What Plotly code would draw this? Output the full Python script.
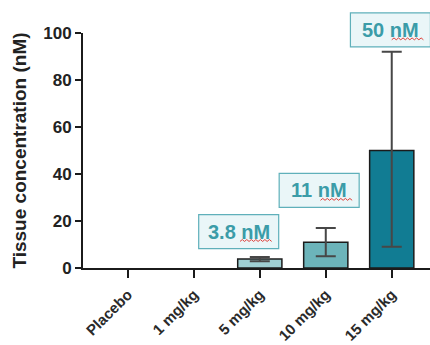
import plotly.graph_objects as go
import numpy as np

# Tissue concentration by dose group
groups = ["Placebo", "1 mg/kg", "5 mg/kg", "10 mg/kg", "15 mg/kg"]
mean_nM = [0, 0, 3.8, 11, 50]
err_plus = [None, None, 0.9, 6, 42]
err_minus = [None, None, 0.9, 6, 41]
bar_colors = ["#9fcfd3", "#9fcfd3", "#9fcfd3", "#6cb4ba", "#117c93"]
outline_w = [0, 0, 1.5, 1.5, 1.5]
value_labels = ["", "", "3.8 nM", "11 nM", "50 nM"]
label_x = [None, None, 1.68, 2.90, 3.98]
label_y = [None, None, 15.5, 33, 101.3]

FONT = "Liberation Sans, Arial, sans-serif"
TEAL_TEXT = "#3b9ca8"
Y_MAX = 100
pos = list(range(len(groups)))

fig = go.Figure()
fig.add_trace(go.Bar(
    x=pos, y=mean_nM, width=0.67,
    marker=dict(color=bar_colors, line=dict(color="#1b1b1b", width=outline_w)),
    cliponaxis=False,
))

# error bars only for groups that have a spread
has_err = [i for i in pos if err_plus[i] is not None]
fig.add_trace(go.Scatter(
    x=[pos[i] for i in has_err], y=[mean_nM[i] for i in has_err],
    mode="markers", marker=dict(size=0.1, color="rgba(0,0,0,0)"),
    error_y=dict(type="data", symmetric=False,
                 array=[err_plus[i] for i in has_err],
                 arrayminus=[err_minus[i] for i in has_err],
                 color="#474747", thickness=2, width=10),
    hoverinfo="skip",
))

for i, txt in enumerate(value_labels):
    if not txt:
        continue
    # label box
    fig.add_shape(
        type="rect", layer="below",
        xref="x", xsizemode="pixel", xanchor=label_x[i], x0=-40, x1=40,
        yref="paper", ysizemode="pixel", yanchor=label_y[i] / Y_MAX, y0=-17, y1=17,
        fillcolor="#eaf6f8", line=dict(color="#5fb0ba", width=1.2),
    )
    fig.add_annotation(
        x=label_x[i], y=label_y[i] / Y_MAX, xref="x", yref="paper",
        xanchor="center", yanchor="middle",
        text="<b>" + txt + "</b>",
        showarrow=False, font=dict(family=FONT, size=20, color=TEAL_TEXT),
    )
    # red wavy spell-check underline under the "nM" unit
    xs = np.linspace(label_x[i] + 0.02, label_x[i] + 0.5, 15)
    ys = label_y[i] - 3.8 + np.array([0.4 if k % 2 else -0.4 for k in range(15)])
    fig.add_trace(go.Scatter(x=xs, y=ys, mode="lines",
                             line=dict(color="#e0403a", width=1), hoverinfo="skip"))

fig.update_layout(
    width=430, height=345,
    margin=dict(l=83, r=0, t=33, b=77),
    paper_bgcolor="white", plot_bgcolor="white",
    showlegend=False,
    font=dict(family=FONT, color="#222222"),
    xaxis=dict(
        type="linear", range=[-0.68, 4.58], showline=True, linecolor="#1b1b1b", linewidth=2,
        ticks="outside", ticklen=8, tickwidth=2, tickcolor="#1b1b1b",
        tickangle=-45, tickfont=dict(family=FONT, size=15, color="#2a2a2a"),
        ticklabelstandoff=2, automargin=False,
        showgrid=False, zeroline=False,
        tickvals=pos, ticktext=["<b>" + g + "</b>" for g in groups],
    ),
    yaxis=dict(
        range=[0, Y_MAX], showline=True, linecolor="#1b1b1b", linewidth=2,
        ticks="outside", ticklen=6, tickwidth=2, tickcolor="#1b1b1b",
        tickvals=[0, 20, 40, 60, 80, 100],
        ticktext=["<b>%d</b>" % v for v in [0, 20, 40, 60, 80, 100]],
        tickfont=dict(family=FONT, size=17, color="#222222"),
        showgrid=False, zeroline=False, automargin=False,
        title=dict(text="<b>Tissue concentration (nM)</b>",
                   font=dict(family=FONT, size=19, color="#222222"), standoff=12),
    ),
)

fig.write_html("out.html")
